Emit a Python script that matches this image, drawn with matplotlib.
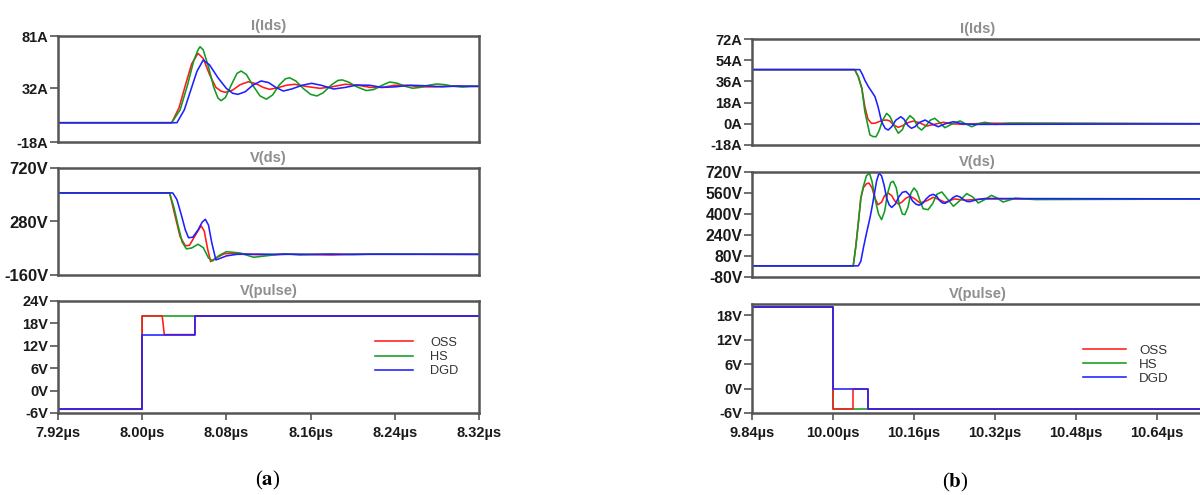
import matplotlib
matplotlib.use("Agg")
import matplotlib.pyplot as plt

plt.rcParams['font.family'] = ['Liberation Sans', 'DejaVu Sans']
plt.rcParams['mathtext.fontset'] = 'stix'

series_names = ["OSS", "HS", "DGD"]
series_colors = ["#ff1a1a", "#139a22", "#1f1fff"]

# ---------------- (a) turn-on, time in us ----------------
a_xticks = [7.92, 8.00, 8.08, 8.16, 8.24, 8.32]
a_xlabels = ["7.92µs", "8.00µs", "8.08µs", "8.16µs", "8.24µs", "8.32µs"]

a_ids_ticks = [-18, 32, 81]
a_ids_labels = ["-18A", "32A", "81A"]
a_ids_oss_t = [7.92, 8.028, 8.035, 8.041, 8.047, 8.053, 8.058, 8.064, 8.070, 8.075, 8.079, 8.086,
               8.093, 8.101, 8.108, 8.115, 8.121, 8.128, 8.137, 8.145, 8.155, 8.169, 8.180, 8.193,
               8.205, 8.217, 8.228, 8.240, 8.252, 8.264, 8.278, 8.292, 8.306, 8.32]
a_ids_oss = [0, 0, 14, 35, 55, 64.8, 60, 45, 33, 29.5, 28.4, 30.5,
             35.5, 38.3, 36.5, 33, 31.2, 32.5, 35, 35.9, 34, 32.1, 33.5, 35.9,
             35, 33, 33, 35, 35, 33.5, 33.5, 34.5, 34, 34]
a_ids_hs_t = [7.92, 8.028, 8.036, 8.043, 8.049, 8.053, 8.055, 8.058, 8.063, 8.068, 8.072, 8.075,
              8.079, 8.085, 8.090, 8.094, 8.099, 8.105, 8.112, 8.118, 8.124, 8.130, 8.136, 8.140,
              8.146, 8.153, 8.160, 8.166, 8.172, 8.180, 8.186, 8.190, 8.196, 8.204, 8.213, 8.220,
              8.228, 8.235, 8.242, 8.250, 8.257, 8.264, 8.272, 8.280, 8.288, 8.296, 8.304, 8.312, 8.32]
a_ids_hs = [0, 0, 12, 35, 58, 68, 71, 68, 52, 33, 23, 20.6,
            23.5, 36, 46, 48.3, 45, 35, 25, 22, 26, 35, 41, 42,
            39, 32, 26.5, 25, 28, 35.5, 39.5, 40, 38, 33.5, 30, 31,
            35, 38, 37, 34, 32.2, 33, 35, 36.2, 35.5, 34, 33.3, 33.8, 34]
a_ids_dgd_t = [7.92, 8.033, 8.040, 8.046, 8.052, 8.058, 8.064, 8.072, 8.080, 8.086, 8.091, 8.098,
               8.105, 8.113, 8.120, 8.127, 8.134, 8.142, 8.152, 8.161, 8.170, 8.182, 8.193, 8.204,
               8.216, 8.228, 8.240, 8.255, 8.270, 8.285, 8.300, 8.32]
a_ids_dgd = [0, 0, 12, 30, 48, 58.6, 54, 42, 32, 27.5, 26.5, 29,
             35, 39, 37.5, 33, 29.6, 31.5, 35, 36.8, 35, 31.5, 33, 35.2,
             35, 33, 33.5, 35, 34.5, 33.5, 34.3, 34]

a_vds_ticks = [-160, 280, 720]
a_vds_labels = ["-160V", "280V", "720V"]
a_vds_oss_t = [7.92, 8.026, 8.031, 8.036, 8.041, 8.045, 8.050, 8.056, 8.059, 8.062, 8.065, 8.070,
               8.078, 8.090, 8.105, 8.12, 8.14, 8.16, 8.18, 8.20, 8.22, 8.32]
a_vds_oss = [515, 515, 334, 156, 80, 85, 160, 245, 200, 60, -50, -20,
             15, 20, 8, 5, 12, 8, 5, 10, 12, 10]
a_vds_hs_t = [7.92, 8.026, 8.030, 8.034, 8.038, 8.042, 8.047, 8.053, 8.058, 8.063, 8.067, 8.073,
              8.080, 8.092, 8.106, 8.12, 8.135, 8.15, 8.165, 8.18, 8.20, 8.22, 8.32]
a_vds_hs = [515, 515, 400, 250, 110, 55, 62, 93, 65, -20, -44, 0,
            32, 22, -14, 0, 15, 5, 10, 13, 8, 12, 10]
a_vds_dgd_t = [7.92, 8.029, 8.033, 8.037, 8.041, 8.044, 8.048, 8.053, 8.057, 8.060, 8.063, 8.066,
               8.070, 8.075, 8.080, 8.090, 8.11, 8.13, 8.32]
a_vds_dgd = [515, 515, 460, 340, 210, 147, 150, 210, 275, 298, 250, 110,
             -36, -20, -3, 10, 12, 10, 10]

a_pulse_ticks = [-6, 0, 6, 12, 18, 24]
a_pulse_labels = ["-6V", "0V", "6V", "12V", "18V", "24V"]
a_pulse_oss_t = [7.92, 8.00, 8.00, 8.019, 8.021, 8.05, 8.05, 8.32]
a_pulse_oss = [-5, -5, 20, 20, 15, 15, 20, 20]
a_pulse_hs_t = [7.92, 8.00, 8.00, 8.32]
a_pulse_hs = [-5, -5, 20, 20]
a_pulse_dgd_t = [7.92, 8.00, 8.00, 8.05, 8.05, 8.32]
a_pulse_dgd = [-5, -5, 15, 15, 20, 20]

# ---------------- (b) turn-off, time in us ----------------
b_xticks = [9.84, 10.00, 10.16, 10.32, 10.48, 10.64]
b_xlabels = ["9.84µs", "10.00µs", "10.16µs", "10.32µs", "10.48µs", "10.64µs"]

b_ids_ticks = [-18, 0, 18, 36, 54, 72]
b_ids_labels = ["-18A", "0A", "18A", "36A", "54A", "72A"]
b_ids_oss_t = [9.84, 10.043, 10.050, 10.057, 10.063, 10.069, 10.076, 10.083, 10.092, 10.100, 10.106,
               10.112, 10.120, 10.129, 10.138, 10.148, 10.159, 10.170, 10.185, 10.200, 10.218,
               10.235, 10.26, 10.30, 10.80]
b_ids_oss = [46, 46, 40, 30, 14.5, 4, 0.4, 0.5, 2, 3, 3.2,
             2.5, -1, -3, -1.5, 1, 2.3, 1, -1.9, -0.5, 1.3,
             0, -0.5, 0.5, 0]
b_ids_hs_t = [9.84, 10.043, 10.050, 10.057, 10.063, 10.068, 10.073, 10.079, 10.085, 10.091, 10.098,
              10.106, 10.113, 10.121, 10.129, 10.137, 10.145, 10.152, 10.160, 10.168, 10.175,
              10.183, 10.192, 10.201, 10.211, 10.221, 10.236, 10.251, 10.262, 10.274, 10.287,
              10.300, 10.32, 10.35, 10.80]
b_ids_hs = [46, 46, 40, 30, 10.3, 0.4, -9.5, -10.8, -11, -6, 3,
            8.9, 6, -2, -8, -5, 3, 6.9, 4, -3, -5.3,
            -2, 3, 4.7, 1, -3.3, 0, 2.4, 0, -2.5, 0,
            1.3, -0.5, 0.5, 0]
b_ids_dgd_t = [9.84, 10.053, 10.058, 10.063, 10.070, 10.077, 10.083, 10.089, 10.096, 10.103,
               10.109, 10.116, 10.124, 10.134, 10.140, 10.148, 10.155, 10.162, 10.170, 10.182,
               10.195, 10.208, 10.222, 10.238, 10.255, 10.28, 10.80]
b_ids_dgd = [46, 46, 42, 37, 31.5, 27, 23, 14.5, 1.8, -3.8,
             -5.3, -2.5, 3, 6, 4, -1.5, -3.8, -2.5, 1, 3.2,
             0, -2.5, 0, 1.8, 0, -0.5, 0]

b_vds_ticks = [-80, 80, 240, 400, 560, 720]
b_vds_labels = ["-80V", "80V", "240V", "400V", "560V", "720V"]
b_vds_oss_t = [9.84, 10.040, 10.045, 10.050, 10.055, 10.060, 10.066, 10.071, 10.077, 10.083,
               10.089, 10.096, 10.102, 10.109, 10.116, 10.122, 10.129, 10.136, 10.144, 10.152,
               10.160, 10.172, 10.185, 10.198, 10.210, 10.221, 10.24, 10.26, 10.30, 10.80]
b_vds_oss = [5, 5, 150, 330, 520, 600, 630, 636, 600, 520,
             471, 490, 540, 560, 540, 500, 476, 490, 520, 535,
             520, 484, 500, 527, 510, 489, 515, 505, 515, 515]
b_vds_hs_t = [9.84, 10.040, 10.045, 10.050, 10.055, 10.060, 10.066, 10.072, 10.077, 10.084,
              10.090, 10.096, 10.102, 10.108, 10.114, 10.119, 10.125, 10.131, 10.137, 10.142,
              10.148, 10.154, 10.160, 10.166, 10.172, 10.178, 10.188, 10.197, 10.205, 10.215,
              10.225, 10.238, 10.250, 10.264, 10.276, 10.287, 10.300, 10.313, 10.325, 10.336,
              10.36, 10.40, 10.80]
b_vds_hs = [5, 5, 150, 330, 520, 610, 690, 712, 650, 500,
            400, 357, 420, 560, 640, 649, 600, 470, 400, 395,
            450, 560, 598, 570, 500, 440, 433, 480, 550, 568,
            520, 459, 500, 555, 530, 484, 510, 542, 520, 491,
            520, 510, 515]
b_vds_dgd_t = [9.84, 10.050, 10.055, 10.060, 10.066, 10.073, 10.078, 10.082, 10.086, 10.091,
               10.096, 10.101, 10.106, 10.111, 10.116, 10.123, 10.130, 10.137, 10.144, 10.151,
               10.157, 10.164, 10.170, 10.177, 10.184, 10.191, 10.198, 10.205, 10.210, 10.216,
               10.221, 10.230, 10.237, 10.244, 10.251, 10.258, 10.264, 10.270, 10.285, 10.30, 10.80]
b_vds_dgd = [5, 5, 40, 141, 250, 369, 470, 560, 649, 712,
             690, 620, 520, 470, 450, 475, 530, 565, 572, 545,
             500, 475, 467, 480, 515, 540, 550, 535, 505, 485,
             481, 500, 525, 539, 530, 510, 496, 494, 510, 518, 515]

b_pulse_ticks = [-6, 0, 6, 12, 18]
b_pulse_labels = ["-6V", "0V", "6V", "12V", "18V"]
b_pulse_oss_t = [9.84, 10.00, 10.00, 10.04, 10.04, 10.07, 10.07, 10.80]
b_pulse_oss = [20, 20, -5, -5, 0, 0, -5, -5]
b_pulse_hs_t = [9.84, 10.00, 10.00, 10.80]
b_pulse_hs = [20, 20, -5, -5]
b_pulse_dgd_t = [9.84, 10.00, 10.00, 10.07, 10.07, 10.80]
b_pulse_dgd = [20, 20, 0, 0, -5, -5]

SPINE = "#555555"
TITLE_GRAY = "#8e8e8e"


def style_axis(ax, title, yticks, ylabels, ylim, xlim, xticks=None, xlabels=None, ysize=10.5):
    ax.set_xlim(*xlim)
    ax.set_ylim(*ylim)
    ax.set_yticks(yticks, ylabels)
    if xticks is None:
        ax.set_xticks([])
    else:
        ax.set_xticks(xticks, xlabels)
    for sp in ax.spines.values():
        sp.set_color(SPINE)
        sp.set_linewidth(1.8)
    ax.tick_params(axis='y', length=6, width=1.2, color=SPINE, pad=1,
                   labelsize=ysize, labelcolor="#1a1a1a")
    ax.tick_params(axis='x', length=5, width=1.2, color=SPINE, pad=4,
                   labelsize=10.5, labelcolor="#1a1a1a")
    for lab in ax.get_xticklabels() + ax.get_yticklabels():
        lab.set_fontweight('bold')
    ax.set_title(title, color=TITLE_GRAY, fontsize=10.5, fontweight='bold', pad=4)


def draw(ax, traces, zorders=(2, 2.1, 2.2)):
    lines = []
    for (t, v), name, col, z in zip(traces, series_names, series_colors, zorders):
        ln, = ax.plot(t, v, color=col, lw=1.15, label=name, zorder=z)
        lines.append(ln)
    return lines


fig = plt.figure(figsize=(12, 4.95), dpi=100)
W, H = 1200.0, 495.0


def add_axes(x0, x1, y0, y1):
    return fig.add_axes([x0 / W, 1 - y1 / H, (x1 - x0) / W, (y1 - y0) / H])


a_xlim = (7.92, 8.32)
b_xlim = (9.84, 10.731)

# ---- panel (a)
ax = add_axes(58, 479, 36, 142)
draw(ax, [(a_ids_oss_t, a_ids_oss), (a_ids_hs_t, a_ids_hs), (a_ids_dgd_t, a_ids_dgd)])
style_axis(ax, "I(Ids)", a_ids_ticks, a_ids_labels, (-18, 81), a_xlim)

ax = add_axes(58, 479, 168, 275)
draw(ax, [(a_vds_oss_t, a_vds_oss), (a_vds_hs_t, a_vds_hs), (a_vds_dgd_t, a_vds_dgd)])
style_axis(ax, "V(ds)", a_vds_ticks, a_vds_labels, (-160, 720), a_xlim, ysize=12)

ax = add_axes(58, 479, 301, 413)
draw(ax, [(a_pulse_oss_t, a_pulse_oss), (a_pulse_hs_t, a_pulse_hs), (a_pulse_dgd_t, a_pulse_dgd)],
     zorders=(2.1, 2, 2.2))
style_axis(ax, "V(pulse)", a_pulse_ticks, a_pulse_labels, (-6, 24), a_xlim, a_xticks, a_xlabels)
leg = ax.legend(loc='upper left', bbox_to_anchor=(0.753, 0.68), frameon=False, fontsize=9.2,
                handlelength=3.0, handletextpad=1.3, labelspacing=0.18, borderpad=0,
                borderaxespad=0)
for txt in leg.get_texts():
    txt.set_color("#333333")

# ---- panel (b)
ax = add_axes(752, 1203, 39, 145)
draw(ax, [(b_ids_oss_t, b_ids_oss), (b_ids_hs_t, b_ids_hs), (b_ids_dgd_t, b_ids_dgd)])
style_axis(ax, "I(Ids)", b_ids_ticks, b_ids_labels, (-18, 72), b_xlim)

ax = add_axes(752, 1203, 172, 277)
draw(ax, [(b_vds_oss_t, b_vds_oss), (b_vds_hs_t, b_vds_hs), (b_vds_dgd_t, b_vds_dgd)])
style_axis(ax, "V(ds)", b_vds_ticks, b_vds_labels, (-80, 720), b_xlim, ysize=11.3)

ax = add_axes(752, 1203, 304, 413)
draw(ax, [(b_pulse_oss_t, b_pulse_oss), (b_pulse_hs_t, b_pulse_hs), (b_pulse_dgd_t, b_pulse_dgd)],
     zorders=(2.1, 2, 2.2))
style_axis(ax, "V(pulse)", b_pulse_ticks, b_pulse_labels, (-6, 20.7), b_xlim, b_xticks, b_xlabels)
leg = ax.legend(loc='upper left', bbox_to_anchor=(0.734, 0.63), frameon=False, fontsize=9.6,
                handlelength=3.2, handletextpad=1.0, labelspacing=0.12, borderpad=0,
                borderaxespad=0)
for txt in leg.get_texts():
    txt.set_color("#333333")

fig.text(268 / W, 1 - 480 / H, r"($\mathbf{a}$)", ha='center', va='center', fontsize=15,
         family='Liberation Serif')
fig.text(955 / W, 1 - 482 / H, r"($\mathbf{b}$)", ha='center', va='center', fontsize=15,
         family='Liberation Serif')

fig.savefig("out.png", dpi=100)
